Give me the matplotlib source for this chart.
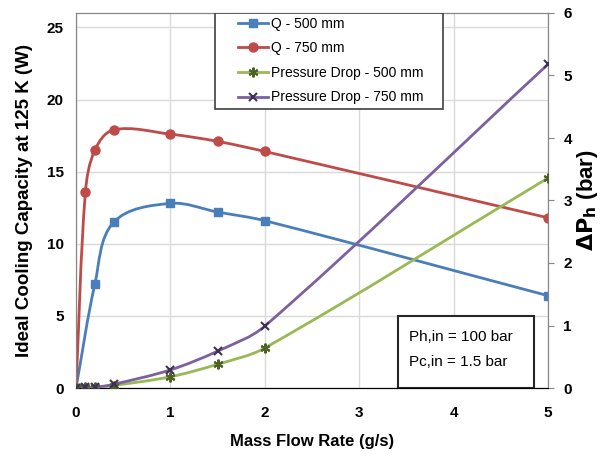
import numpy as np
import matplotlib
matplotlib.use("Agg")
import matplotlib.pyplot as plt
from matplotlib.path import Path
from matplotlib.patches import PathPatch, Rectangle
from matplotlib.lines import Line2D

plt.rcParams['font.family'] = ['Liberation Sans', 'DejaVu Sans']

# data
x_q500 = [0, 0.2, 0.4, 1, 1.5, 2, 5]
q500 = [0, 7.2, 11.5, 12.8, 12.2, 11.6, 6.4]
x_q750 = [0, 0.1, 0.2, 0.4, 1, 1.5, 2, 5]
q750 = [0, 13.6, 16.5, 17.9, 17.6, 17.1, 16.4, 11.8]
x_dp = [0, 0.1, 0.2, 0.4, 1, 1.5, 2, 5]
dp500 = [0, 0.01, 0.01, 0.04, 0.18, 0.38, 0.64, 3.36]
dp750 = [0, 0.01, 0.01, 0.06, 0.29, 0.59, 0.99, 5.18]

x_ticks = [0, 1, 2, 3, 4, 5]
left_ticks = [0, 5, 10, 15, 20, 25]
right_ticks = [0, 1, 2, 3, 4, 5, 6]

XMAX, YMAX_L, YMAX_R = 5, 26, 6
AX_W, AX_H = 472, 375  # axes size in px, smoothing is done in screen space


def smooth_path(x, y, ymax):
    # excel-like smoothed line as cubic bezier segments through the points
    sx, sy = AX_W / XMAX, AX_H / ymax
    p = np.column_stack([np.asarray(x, float) * sx, np.asarray(y, float) * sy])
    n = len(p)
    tang = []
    for i in range(n):
        d = p[min(i + 1, n - 1)] - p[max(i - 1, 0)]
        tang.append(d / (np.hypot(*d) or 1))
    verts = [tuple(p[0])]
    codes = [Path.MOVETO]
    for i in range(n - 1):
        seg = np.hypot(*(p[i + 1] - p[i])) / 3
        c1 = p[i] + tang[i] * seg
        c2 = p[i + 1] - tang[i + 1] * seg
        verts += [tuple(c1), tuple(c2), tuple(p[i + 1])]
        codes += [Path.CURVE4] * 3
    verts = [(vx / sx, vy / sy) for vx, vy in verts]
    return Path(verts, codes)


fig = plt.figure(figsize=(6.02, 4.63), dpi=100)
ax = fig.add_axes([76 / 602, 75 / 463, 472 / 602, 375 / 463])
ax2 = ax.twinx()

c_blue, c_red, c_green, c_purple = '#4a7ebb', '#be4b48', '#98b954', '#7d60a0'

series = [
    (ax, x_q500, q500, YMAX_L, c_blue, 's', c_blue, 'Q - 500 mm', 5.5),
    (ax, x_q750, q750, YMAX_L, c_red, 'o', c_red, 'Q - 750 mm', 6.5),
    (ax2, x_dp, dp500, YMAX_R, c_green, (6, 2, 0), '#4f6228', 'Pressure Drop - 500 mm', 7),
    (ax2, x_dp, dp750, YMAX_R, c_purple, 'x', '#3f3151', 'Pressure Drop - 750 mm', 6),
]

handles = []
for a, xs, ys, ymax, col, mk, mec, name, ms in series:
    mew = 1 if mk in ('s', 'o') else 1.5
    a.add_patch(PathPatch(smooth_path(xs, ys, ymax), facecolor='none', edgecolor=col, lw=2, zorder=3))
    a.plot(xs, ys, linestyle='none', marker=mk, ms=ms, color=col, mec=mec, mew=mew, zorder=4)
    handles.append(Line2D([], [], color=col, lw=2, marker=mk, ms=ms, mec=mec, mew=mew, label=name))

ax.set_xlim(0, XMAX)
ax.set_ylim(0, YMAX_L)
ax2.set_ylim(0, YMAX_R)
ax.set_xticks(x_ticks)
ax.set_yticks(left_ticks)
ax2.set_yticks(right_ticks)

ax.grid(True, color='#d9d9d9', lw=1)
ax.set_axisbelow(True)
ax.tick_params(axis='both', length=0, labelsize=11)
ax.tick_params(axis='x', pad=13)
ax.tick_params(axis='y', pad=9)
ax2.tick_params(axis='y', length=4, direction='out', color='#868686', labelsize=11, pad=7)
for lab in ax.get_xticklabels() + ax.get_yticklabels() + ax2.get_yticklabels():
    lab.set_fontweight('bold')

for a in (ax, ax2):
    a.spines['top'].set_color('#868686')
    a.spines['left'].set_color('#868686')
    a.spines['right'].set_color('#868686')
    a.spines['bottom'].set_color('black')

ax.set_ylabel('Ideal Cooling Capacity at 125 K (W)', fontsize=13.5, fontweight='bold', labelpad=10)
ax2.set_ylabel(r'$\mathbf{\Delta P_h}$ (bar)', fontsize=16, fontweight='bold', labelpad=2)
ax.set_xlabel('Mass Flow Rate (g/s)', fontsize=12, fontweight='bold', labelpad=10)

# legend box drawn separately so it can be wider than its entries, like the excel one
ax2.add_patch(Rectangle((0.294, 0.744), 0.484, 0.256, transform=ax2.transAxes,
                        facecolor='white', edgecolor='#404040', lw=1.2, zorder=5))
leg = ax2.legend(handles=handles, loc='upper left', bbox_to_anchor=(0.343, 0.99), fontsize=10,
                 frameon=False, borderpad=0, labelspacing=0.76,
                 handlelength=2.2, handletextpad=0.15, borderaxespad=0)
leg.set_zorder(6)

ax2.add_patch(Rectangle((0.682, 0.0), 0.288, 0.192, transform=ax2.transAxes,
                        facecolor='white', edgecolor='#262626', lw=1.5, zorder=5))
ax2.text(0.705, 0.135, 'Ph,in = 100 bar', transform=ax2.transAxes, fontsize=11, va='center', zorder=6)
ax2.text(0.705, 0.07, 'Pc,in = 1.5 bar', transform=ax2.transAxes, fontsize=11, va='center', zorder=6)

fig.savefig('out.png', dpi=100)
